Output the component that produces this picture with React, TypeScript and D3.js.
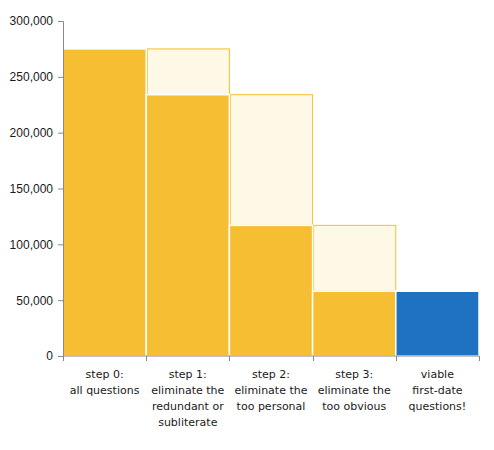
import React, { useEffect, useRef } from "react";
import * as d3 from "d3";

// ── Data ──────────────────────────────────────────────────────────────────
const categories = ["s0", "s1", "s2", "s3", "viable"];
const categoryLabels = [
    ["step 0:", "all questions"],
    ["step 1:", "eliminate the", "redundant or", "subliterate"],
    ["step 2:", "eliminate the", "too personal"],
    ["step 3:", "eliminate the", "too obvious"],
    ["viable", "first-date", "questions!"],
];
const remaining = [275000, 234000, 117000, 58000, 58000];
const removed = [0, 41000, 117000, 59000, 0];
const yTicks = [0, 50000, 100000, 150000, 200000, 250000, 300000];

const GOLD = "#F6BE33";
const LIGHT = "#FEF8E7";
const BLUE = "#1F71C1";

const App: React.FC = () => {
    const svgRef = useRef<SVGSVGElement | null>(null);

    useEffect(() => {
        if (!svgRef.current) return;
        const WIDTH = 494;
        const HEIGHT = 450;
        const MARGIN = { top: 21, right: 15, bottom: 94, left: 63 };
        const iW = WIDTH - MARGIN.left - MARGIN.right;
        const iH = HEIGHT - MARGIN.top - MARGIN.bottom;

        d3.select(svgRef.current).selectAll("*").remove();

        const svg = d3
            .select(svgRef.current)
            .attr("width", WIDTH)
            .attr("height", HEIGHT)
            .attr("viewBox", `0 0 ${WIDTH} ${HEIGHT}`)
            .style("font-family", "'DejaVu Sans', Verdana, sans-serif")
            .append("g")
            .attr("transform", `translate(${MARGIN.left},${MARGIN.top})`);

        // ── Scales ────────────────────────────────────────────────────────
        const x = d3.scaleBand<string>().domain(categories).range([0, iW]).padding(0);
        const y = d3.scaleLinear().domain([0, 300000]).range([iH, 0]);

        // ── Bars: removed part (light) ────────────────────────────────────
        svg.selectAll("rect.removed")
            .data(categories.map((c, i) => ({ c, base: remaining[i], v: removed[i] })).filter((d) => d.v > 0))
            .enter()
            .append("rect")
            .attr("class", "removed")
            .attr("x", (d) => x(d.c)! + 1)
            .attr("width", x.bandwidth() - 1)
            .attr("y", (d) => y(d.base + d.v))
            .attr("height", (d) => y(d.base) - y(d.base + d.v))
            .attr("fill", LIGHT)
            .attr("stroke", GOLD)
            .attr("stroke-width", 1);

        // ── Bars: remaining part (solid) ──────────────────────────────────
        svg.selectAll("rect.remaining")
            .data(categories.map((c, i) => ({ c, v: remaining[i], last: i === categories.length - 1 })))
            .enter()
            .append("rect")
            .attr("class", "remaining")
            .attr("x", (d) => x(d.c)!)
            .attr("width", x.bandwidth())
            .attr("y", (d) => y(d.v))
            .attr("height", (d) => iH - y(d.v))
            .attr("fill", (d) => (d.last ? BLUE : GOLD))
            .attr("stroke", "#ffffff")
            .attr("stroke-width", 1.5);

        // ── Y axis ────────────────────────────────────────────────────────
        const yAxis = svg
            .append("g")
            .call(
                d3.axisLeft(y)
                    .tickValues(yTicks)
                    .tickSize(5)
                    .tickPadding(5)
                    .tickFormat((d) => d3.format(",")(d as number))
            );
        yAxis.select(".domain").attr("stroke", "#888888");
        yAxis.selectAll(".tick line").attr("stroke", "#888888");
        yAxis.selectAll("text").attr("fill", "#1a1a1a").attr("font-size", 12).attr("font-family", null);

        // ── X axis ────────────────────────────────────────────────────────
        const xAxis = svg.append("g").attr("transform", `translate(0,${iH})`);
        xAxis.append("line")
            .attr("x1", 0).attr("x2", iW)
            .attr("stroke", "#888888");
        const bounds = [...categories.map((c) => x(c)!), iW];
        xAxis.selectAll("line.tick")
            .data(bounds)
            .enter()
            .append("line")
            .attr("class", "tick")
            .attr("x1", (d) => Math.round(d) + 0.5)
            .attr("x2", (d) => Math.round(d) + 0.5)
            .attr("y1", 0)
            .attr("y2", 5)
            .attr("stroke", "#888888");

        const labels = xAxis.selectAll("text.cat")
            .data(categories.map((c, i) => ({ c, lines: categoryLabels[i] })))
            .enter()
            .append("text")
            .attr("class", "cat")
            .attr("text-anchor", "middle")
            .attr("font-size", 11)
            .attr("fill", "#1a1a1a")
            .attr("x", (d) => x(d.c)! + x.bandwidth() / 2)
            .attr("y", 22);
        labels.selectAll("tspan")
            .data((d) => d.lines.map((l) => ({ l, cx: x(d.c)! + x.bandwidth() / 2 })))
            .enter()
            .append("tspan")
            .attr("x", (d) => d.cx)
            .attr("dy", (_, i) => (i === 0 ? 0 : 16))
            .text((d) => d.l);
    }, []);

    return (
        <div style={{ position: "fixed", left: 0, top: 0, background: "#fff" }}>
            <svg ref={svgRef} />
        </div>
    );
};

export default App;
